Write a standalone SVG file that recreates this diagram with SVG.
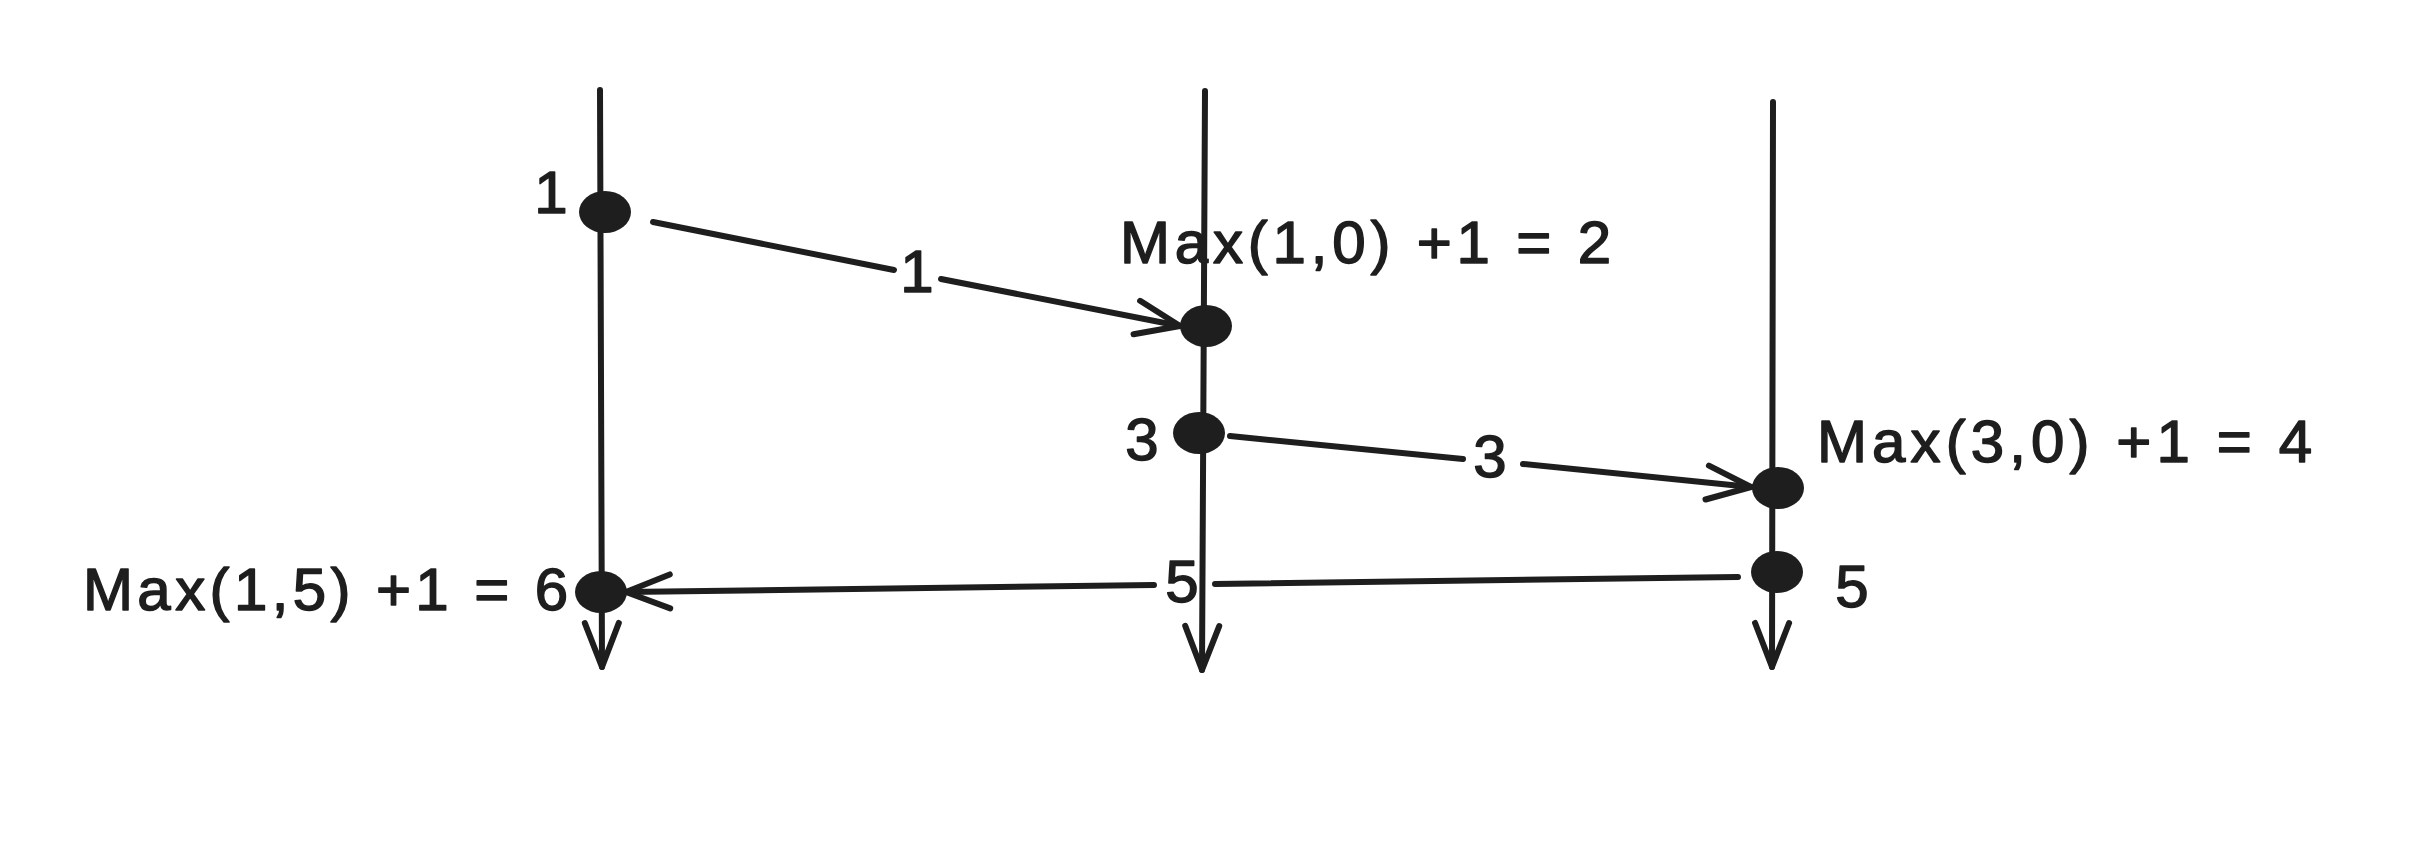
<svg xmlns="http://www.w3.org/2000/svg" width="2418" height="850" viewBox="0 0 2418 850">
  <style>
    .ln { fill: none; stroke: #1e1e1e; stroke-width: 6; stroke-linecap: round; stroke-linejoin: round; }
    .dot { fill: #1e1e1e; }
    .t { font-family: "Liberation Sans", "DejaVu Sans", sans-serif; font-size: 60px; fill: #1e1e1e; stroke: #1e1e1e; stroke-width: 1.5; stroke-linejoin: round; }
    .c { text-anchor: middle; }
  </style>
  <defs>
    <marker id="ah" markerUnits="userSpaceOnUse" viewBox="-55 -28 65 56" markerWidth="65" markerHeight="56" refX="0" refY="0" orient="auto" overflow="visible">
      <path d="M -44 -17 L 0 0 L -44 17" fill="none" stroke="#1e1e1e" stroke-width="6" stroke-linecap="round" stroke-linejoin="round"/>
    </marker>
  </defs>
  <rect width="2418" height="850" fill="#ffffff"/>

  <g id="timelines">
    <path id="timeline-1" class="ln" d="M 600 90 L 602 667" marker-end="url(#ah)"/>
    <path id="timeline-2" class="ln" d="M 1205 91 L 1202 670" marker-end="url(#ah)"/>
    <path id="timeline-3" class="ln" d="M 1773 102 L 1772 667" marker-end="url(#ah)"/>
  </g>

  <g id="connectors">
    <g id="edge-1">
      <path class="ln" d="M 653 222 L 894 270 M 941 279 L 1180 326" marker-end="url(#ah)"/>
      <text class="t c" x="917" y="292">1</text>
    </g>
    <g id="edge-3">
      <path class="ln" d="M 1230 436 L 1463 459 M 1523 464 L 1751 487" marker-end="url(#ah)"/>
      <text class="t c" x="1490" y="477">3</text>
    </g>
    <g id="edge-5">
      <path class="ln" d="M 1738 577 L 1215 584 M 1154 585 L 626 592" marker-end="url(#ah)"/>
      <text class="t c" x="1182" y="602">5</text>
    </g>
  </g>

  <g id="node-p1-send">
    <ellipse class="dot" cx="605" cy="212" rx="26" ry="21"/>
    <text class="t c" x="551" y="213">1</text>
  </g>
  <g id="node-p2-recv">
    <ellipse class="dot" cx="1206" cy="326" rx="26" ry="21"/>
    <text class="t" x="1120" y="263" textLength="491" lengthAdjust="spacing">Max(1,0) +1 = 2</text>
  </g>
  <g id="node-p2-send">
    <ellipse class="dot" cx="1199" cy="433" rx="26" ry="21"/>
    <text class="t c" x="1142" y="460">3</text>
  </g>
  <g id="node-p3-recv">
    <ellipse class="dot" cx="1778" cy="488" rx="26" ry="21"/>
    <text class="t" x="1817" y="462" textLength="495" lengthAdjust="spacing">Max(3,0) +1 = 4</text>
  </g>
  <g id="node-p3-send">
    <ellipse class="dot" cx="1777" cy="572" rx="26" ry="21"/>
    <text class="t c" x="1852" y="607">5</text>
  </g>
  <g id="node-p1-recv">
    <ellipse class="dot" cx="601" cy="592" rx="26" ry="21"/>
    <text class="t" x="83" y="610" textLength="485" lengthAdjust="spacing">Max(1,5) +1 = 6</text>
  </g>
</svg>
